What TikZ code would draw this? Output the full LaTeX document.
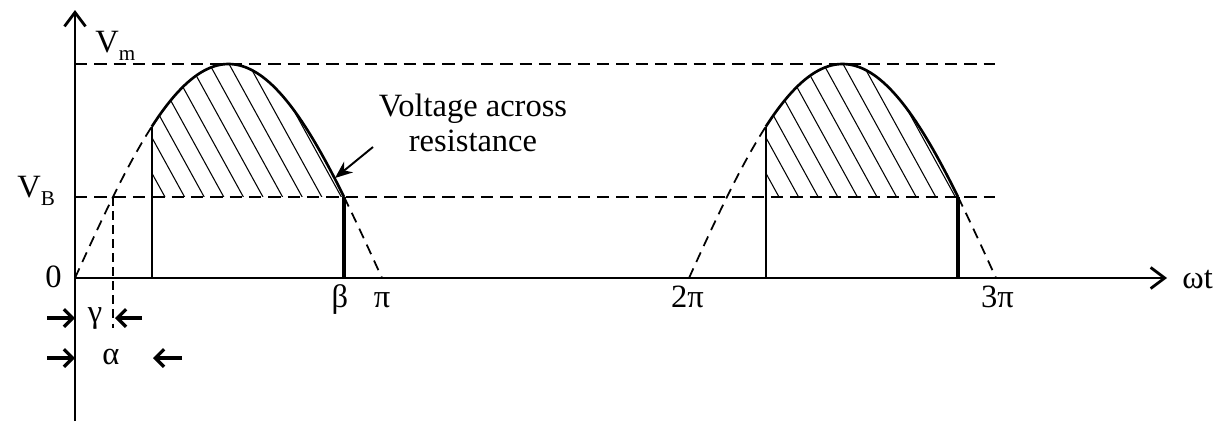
\documentclass[tikz,border=0pt]{standalone}
\usepackage{fontspec}
\setmainfont{Liberation Serif}
\usetikzlibrary{arrows.meta, positioning, calc}

\newcommand{\lowsub}[1]{\raisebox{-0.6ex}{\fontsize{12}{13}\selectfont #1}}

\begin{document}
\begin{tikzpicture}[>=Stealth, font=\fontsize{18.5}{20}\selectfont,
    axis/.style={line width=1.6pt, -{Straight Barb[length=8pt,width=12pt]}},
    level/.style={line width=0.9pt, dash pattern=on 7pt off 4pt},
    wave/.style={line width=1.5pt},
    wavedash/.style={line width=1pt, dash pattern=on 6pt off 4pt},
    hatch/.style={line width=0.6pt},
    gap arrow/.style={line width=1.9pt, -{Straight Barb[length=5pt,width=10pt]}}]
  \useasboundingbox (-1.5,-2.86) rectangle (22.92,5.56);
  % half period, peak, battery level, angles
  \def\hp{6.14}
  \def\vm{4.28}
  \def\vb{1.62}
  \def\xg{0.759}
  \def\xa{1.535}
  \def\xb{5.381}

  % axes
  \coordinate (O) at (0,0);
  \coordinate (ybot) at (0,-2.86);
  \coordinate (ytip) at (0,5.36);
  \coordinate (xtip) at (21.84,0);
  \draw[axis] (ybot) -- (ytip);
  \draw[axis] (O) -- (xtip);

  % reference levels Vm and VB
  \draw[level] (0,\vm) -- (18.4,\vm);
  \draw[level] (0,\vb) -- (18.4,\vb);

  % two conduction humps
  \foreach \s in {0,12.28}{
    \begin{scope}[xshift=\s cm]
      \begin{scope}
        \clip plot[domain=\xa:\xb, samples=60] (\x,{\vm*sin(\x/\hp*180)}) -- (\xa,\vb) -- cycle;
        \foreach \k in {0,...,14}
          \draw[hatch] ({1.408+0.392*\k},\vb) -- ++(-1.65,3);
      \end{scope}
      \draw[wavedash] plot[domain=0:\xa, samples=30] (\x,{\vm*sin(\x/\hp*180)});
      \draw[wavedash] plot[domain=\xb:\hp, samples=20] (\x,{\vm*sin(\x/\hp*180)});
      \draw[wave] plot[domain=\xa:\xb, samples=60] (\x,{\vm*sin(\x/\hp*180)});
      \draw[line width=1pt] (\xa,0) -- (\xa,{\vm*sin(45)});
      \draw[line width=2pt] (\xb,0) -- (\xb,\vb);
    \end{scope}
  }

  % gamma marker
  \coordinate (gtop) at (\xg,\vb);
  \coordinate (gbot) at (\xg,-1.0);
  \draw[line width=1pt, dash pattern=on 5pt off 3pt] (gtop) -- (gbot);

  % axis labels
  \node[anchor=base west, inner sep=0] (vm) at (0.40,4.52) {V\lowsub{m}};
  \node[anchor=base west, inner sep=0] (vb) at (-1.16,1.62) {V\lowsub{B}};
  \node[anchor=base west, inner sep=0] (zero) at (-0.60,-0.18) {0};
  \node[anchor=base west, inner sep=0] (wt) at (22.14,-0.20) {ωt};
  \node[anchor=base] (beta) at (5.30,-0.58) {β};
  \node[anchor=base] (pi1) at (6.14,-0.58) {π};
  \node[anchor=base] (pi2) at (12.25,-0.58) {2π};
  \node[anchor=base] (pi3) at (18.45,-0.58) {3π};

  % gamma and alpha widths
  \node (gam) at (0.40,-0.80) {γ};
  \node (alp) at (0.72,-1.58) {α};
  \coordinate (gl) at (-0.56,-0.80);
  \coordinate (gl0) at (0,-0.80);
  \coordinate (gr) at (1.34,-0.80);
  \coordinate (gr0) at (0.80,-0.80);
  \coordinate (al) at (-0.56,-1.60);
  \coordinate (al0) at (0,-1.60);
  \coordinate (ar) at (2.14,-1.60);
  \coordinate (ar0) at (1.56,-1.60);
  \draw[gap arrow] (gl) -- (gl0);
  \draw[gap arrow] (gr) -- (gr0);
  \draw[gap arrow] (al) -- (al0);
  \draw[gap arrow] (ar) -- (ar0);

  % note on the load voltage
  \node[align=center] (note) at (7.96,3.10) {Voltage across\\resistance};
  \coordinate (tail) at (5.96,2.62);
  \coordinate (onwave) at (5.20,2.00);
  \draw[-{Stealth[length=10pt,width=8pt]}, line width=1.1pt] (tail) -- (onwave);
\end{tikzpicture}
\end{document}
